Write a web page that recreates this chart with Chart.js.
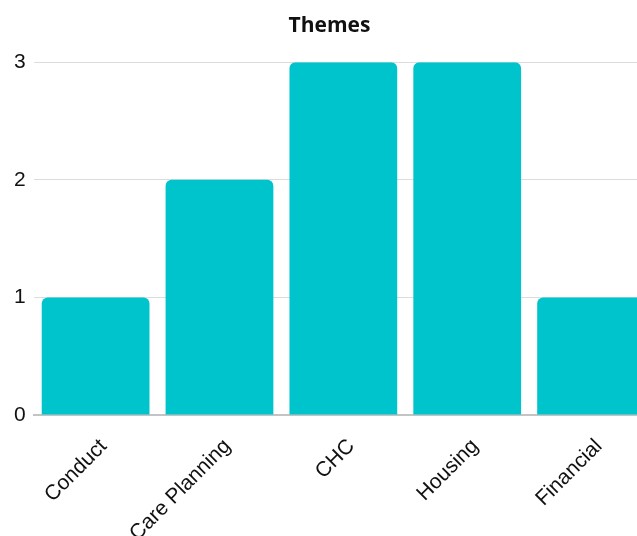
<!DOCTYPE html>
<html>
<head>
<meta charset="utf-8">
<script src="https://cdn.jsdelivr.net/npm/chart.js@4"></script>
<style>
  html, body { margin: 0; padding: 0; background: #fff; overflow: hidden; }
  #wrap { width: 637px; height: 536px; overflow: hidden; }
  #box { width: 658px; height: 557px; position: relative; }
</style>
</head>
<body>
<div id="wrap"><div id="box"><canvas id="themes"></canvas></div></div>
<script>
  const categorias = ['Conduct', 'Care Planning', 'CHC', 'Housing', 'Financial'];
  const valores = [1, 2, 3, 3, 1];
  const ticksY = [0, 1, 2, 3];

  const graph = document.getElementById('themes');

  const myChart = new Chart(graph, {
    type: 'bar',
    data: {
      labels: categorias,
      datasets: [{
        label: 'Themes',
        data: valores,
        backgroundColor: '#00c4cc',
        borderRadius: 6,
        barPercentage: 0.87,
        categoryPercentage: 1,
      }],
    },
    options: {
      responsive: true,
      maintainAspectRatio: false,
      animation: false,
      layout: { padding: { left: 6, right: 5, top: 0, bottom: 0 } },
      plugins: {
        legend: { display: false },
        tooltip: { enabled: false },
        title: {
          display: true,
          text: 'Themes',
          color: '#111',
          font: { family: 'Open Sans', size: 21, weight: 'bold' },
          padding: { top: 13, bottom: 24 },
        },
      },
      scales: {
        x: {
          grid: { display: false },
          border: { display: true, color: '#c4c4c4', width: 2 },
          ticks: {
            color: '#111',
            font: { family: 'Liberation Sans', size: 21 },
            maxRotation: 45,
            minRotation: 45,
            padding: 11,
            labelOffset: 8,
          },
        },
        y: {
          min: ticksY[0],
          max: ticksY[ticksY.length - 1],
          afterBuildTicks: (axis) => { axis.ticks = ticksY.map((v) => ({ value: v })); },
          grid: { color: '#dcdcdc', drawTicks: false },
          border: { display: false },
          ticks: {
            color: '#111',
            font: { family: 'Liberation Sans', size: 21 },
            padding: 8,
          },
        },
      },
    },
  });
</script>
</body>
</html>
